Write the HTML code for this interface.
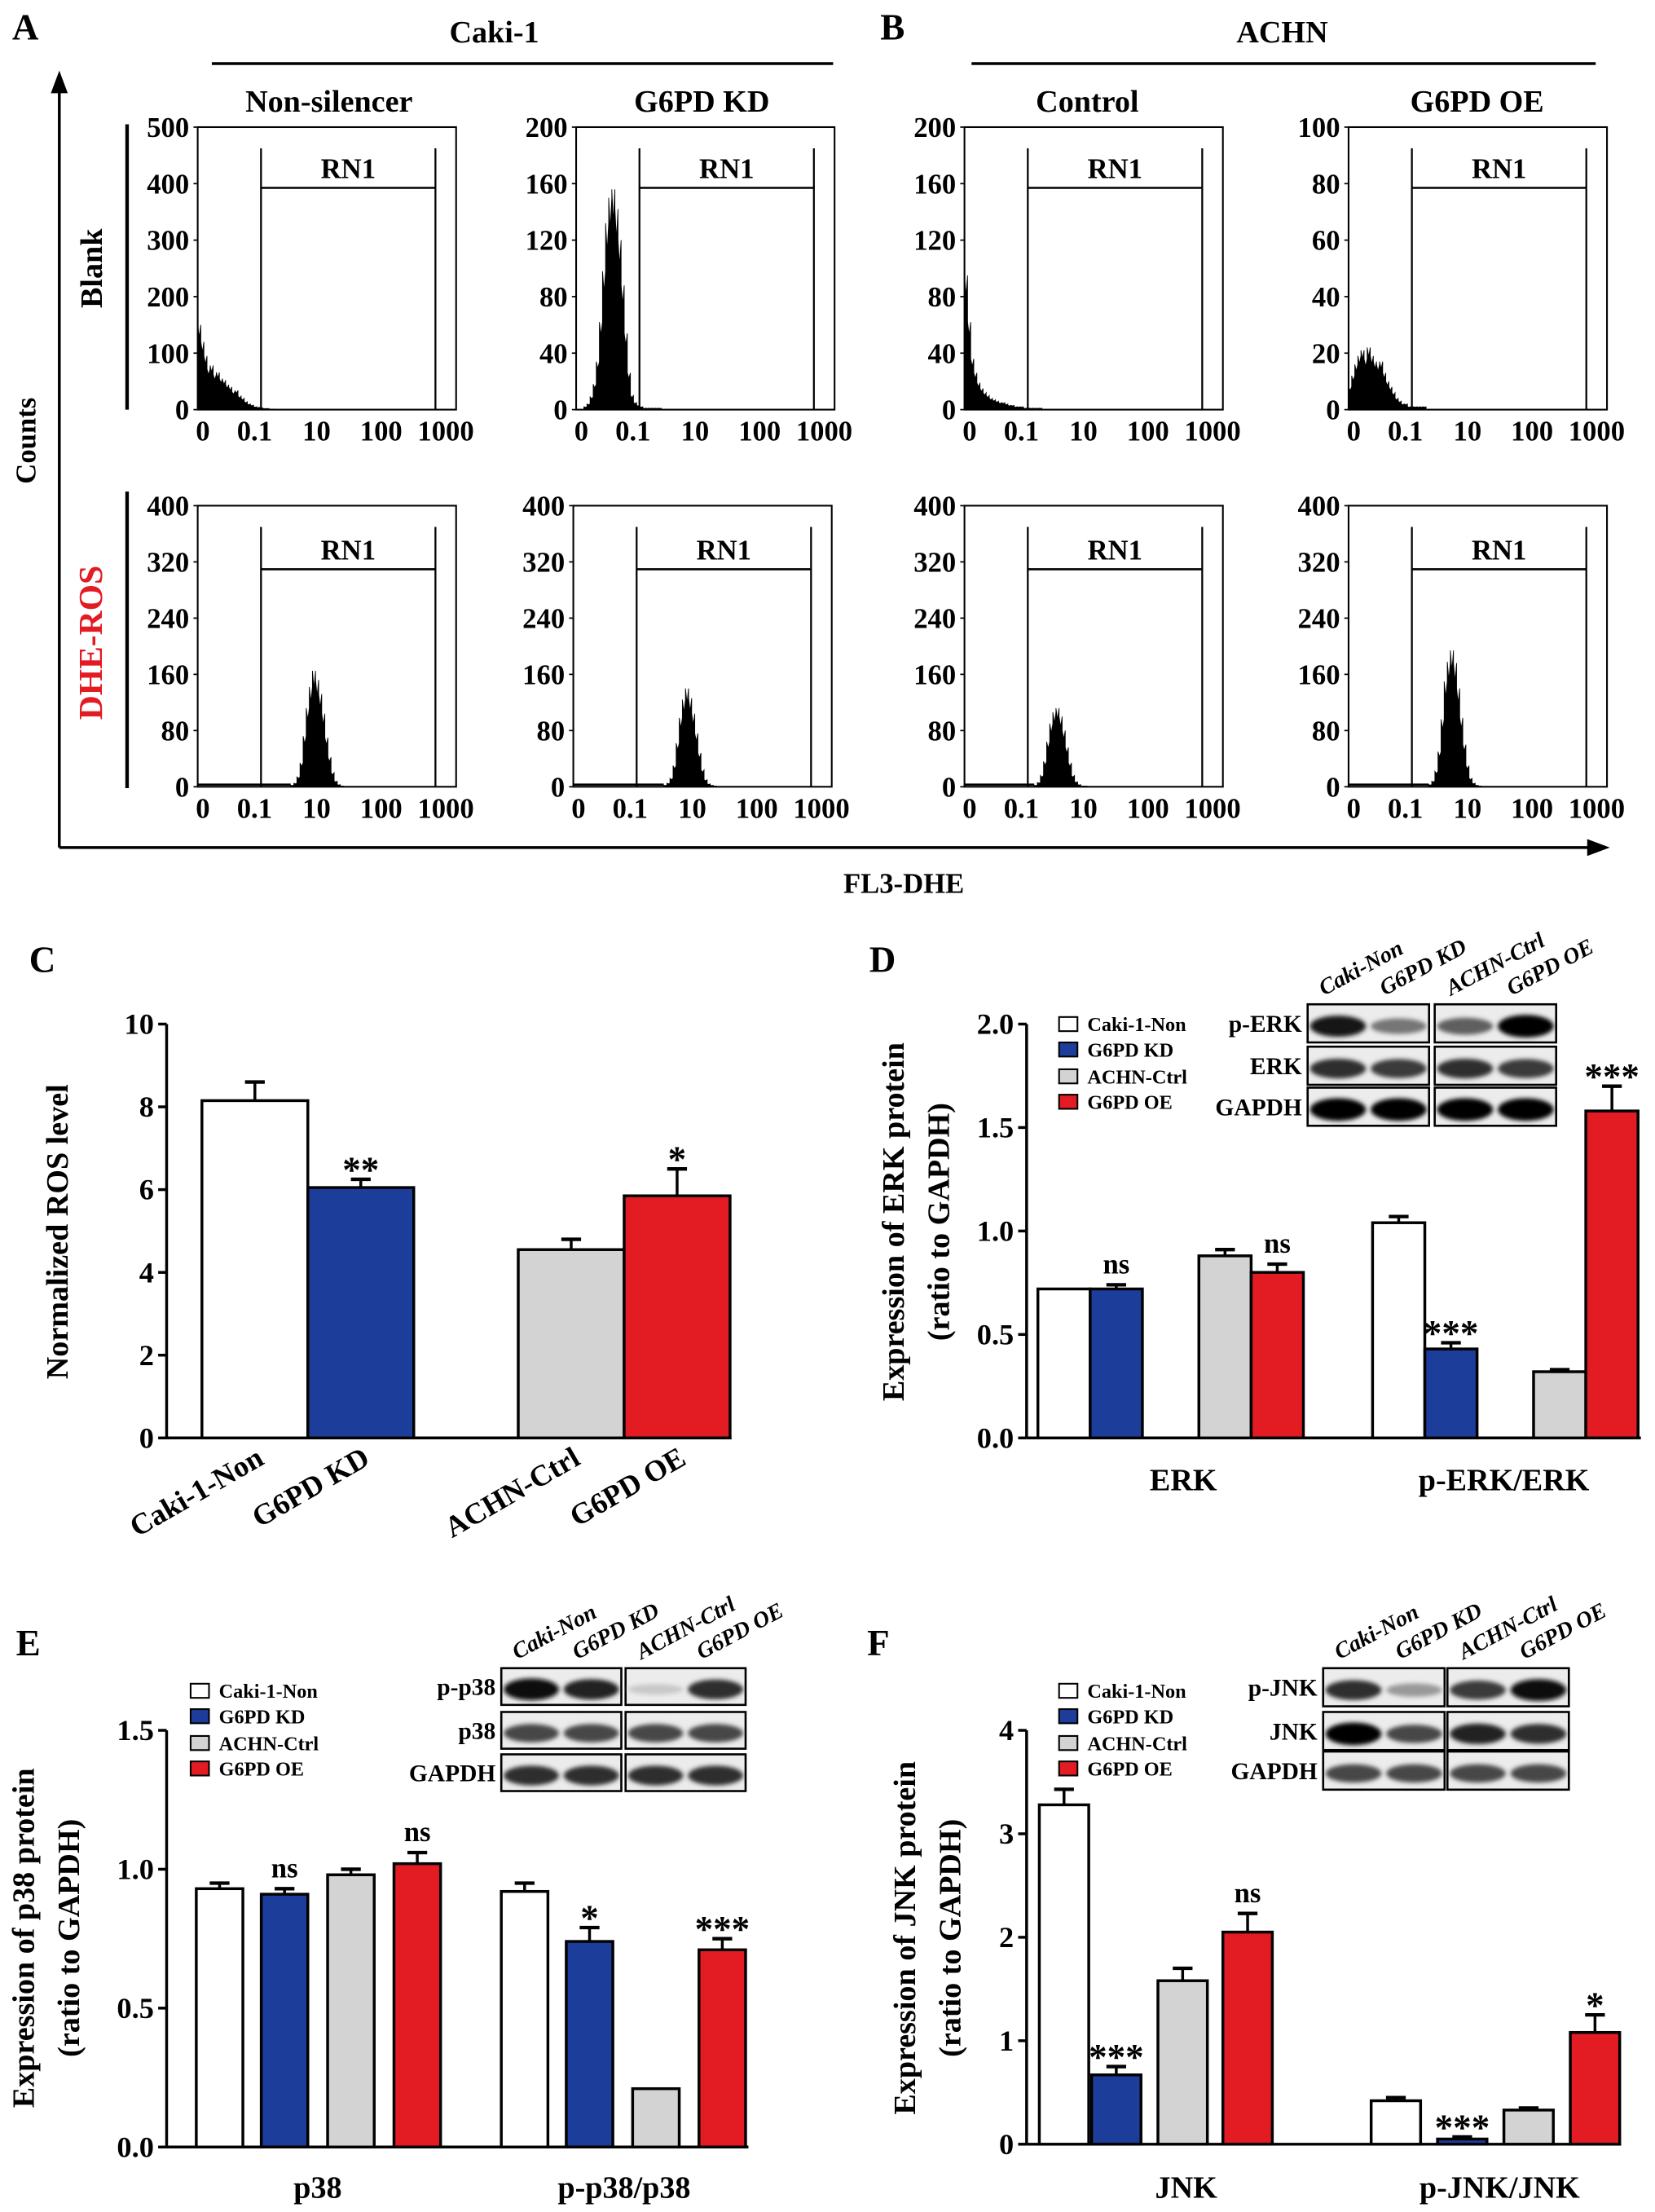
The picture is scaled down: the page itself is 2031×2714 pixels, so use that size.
<!DOCTYPE html>
<html><head><meta charset="utf-8"><style>
html,body{margin:0;padding:0;background:#fff}
svg{display:block}
text{font-family:"Liberation Serif",serif;font-weight:bold;fill:#000}
</style></head><body>
<svg id="fig" width="2031" height="2714" viewBox="0 0 1172 1566" preserveAspectRatio="none" xmlns="http://www.w3.org/2000/svg">
<defs><filter id="blur" x="-20%" y="-50%" width="140%" height="200%"><feGaussianBlur stdDeviation="1.6"/></filter></defs>
</svg>
<script>
// ---------------- DATA ----------------
// Flow histograms (bin counts), start = position on FL3 axis (fraction of axis), bins of fixed width
const flowYMax = [[500,200,200,100],[400,400,400,400]];
const flowStart = [[0.0,0.03,0.0,0.0],[0.36,0.35,0.27,0.31]];
const flowBins = [
 [[150,120,95,72,78,62,66,55,52,44,40,32,34,24,20,14,10,8,5,4,3,2,2,1,1],
  [2,4,9,18,34,62,98,132,150,156,142,120,88,54,26,10,5,3,2,1,1,1,1,1,1],
  [95,62,36,26,19,15,12,10,8,7,6,5,5,4,3,3,2,2,2,1,1,1,1,1,1],
  [8,12,16,19,21,18,22,19,17,16,17,13,10,8,6,4,3,2,2,1,1,1,1,1,1]],
 [[2,5,14,34,72,112,142,165,152,132,104,70,42,20,8,3,1],
  [2,5,12,30,62,98,124,140,126,104,76,48,24,10,4,2,1],
  [2,6,16,36,64,90,106,112,100,80,56,34,16,7,3,1,1],
  [3,8,22,50,96,150,178,194,176,140,98,60,30,12,5,2,1]]
];
const flowTicks = [[[0,100,200,300,400,500],[0,40,80,120,160,200],[0,40,80,120,160,200],[0,20,40,60,80,100]],
 [[0,80,160,240,320,400],[0,80,160,240,320,400],[0,80,160,240,320,400],[0,80,160,240,320,400]]];
const flowXLabels = ["0","0.1","10","100","1000"];
const colTitles = ["Non-silencer","G6PD KD","Control","G6PD OE"];

// Panel C
const cCats = ["Caki-1-Non","G6PD KD","ACHN-Ctrl","G6PD OE"];
const cVals = [8.15,6.05,4.55,5.85];
const cErrs = [0.45,0.2,0.25,0.65];
const cSig = ["","**","","*"];
const cTicks = [0,2,4,6,8,10];

// Panel D
const dGroups = ["ERK","p-ERK/ERK"];
const dVals = [[0.72,0.72,0.88,0.80],[1.04,0.43,0.32,1.58]];
const dErrs = [[0.0,0.02,0.03,0.04],[0.03,0.03,0.01,0.12]];
const dSig = [["","ns","","ns"],["","***","","***"]];
const dTicks = [0.0,0.5,1.0,1.5,2.0];

// Panel E
const eGroups = ["p38","p-p38/p38"];
const eVals = [[0.93,0.91,0.98,1.02],[0.92,0.74,0.21,0.71]];
const eErrs = [[0.02,0.02,0.02,0.04],[0.03,0.05,0.0,0.04]];
const eSig = [["","ns","","ns"],["","*","","***"]];
const eTicks = [0.0,0.5,1.0,1.5];

// Panel F
const fGroups = ["JNK","p-JNK/JNK"];
const fVals = [[3.28,0.67,1.58,2.05],[0.42,0.05,0.33,1.08]];
const fErrs = [[0.15,0.08,0.12,0.18],[0.03,0.02,0.02,0.17]];
const fSig = [["","***","","ns"],["","***","","*"]];
const fTicks = [0,1,2,3,4];

const legendLabels = ["Caki-1-Non","G6PD KD","ACHN-Ctrl","G6PD OE"];
const laneLabels = ["Caki-Non","G6PD KD","ACHN-Ctrl","G6PD OE"];
// Band intensities per row per lane
const dBlot = {rows:["p-ERK","ERK","GAPDH"], inten:[[0.9,0.5,0.6,1.0],[0.8,0.75,0.8,0.75],[1,1,1,1]]};
const eBlot = {rows:["p-p38","p38","GAPDH"], inten:[[0.95,0.85,0.15,0.8],[0.7,0.7,0.7,0.7],[0.8,0.8,0.8,0.8]]};
const fBlot = {rows:["p-JNK","JNK"," GAPDH"], inten:[[0.8,0.35,0.75,0.95],[1,0.7,0.85,0.8],[0.7,0.7,0.7,0.7]]};

const COLORS = ["#ffffff","#1d3d9a","#d3d3d3","#e31b23"];
// ---------------- HELPERS ----------------
const svg = document.getElementById('fig');
const NS = "http://www.w3.org/2000/svg";
function el(tag, attrs, parent){
  const e = document.createElementNS(NS, tag);
  for (const k in attrs) e.setAttribute(k, attrs[k]);
  (parent||svg).appendChild(e);
  return e;
}
function txt(x,y,s,size,anchor,parent,extra){
  const t = el('text',Object.assign({x:x,y:y,'font-size':size,'text-anchor':anchor||'middle'},extra||{}),parent);
  t.textContent = s;
  return t;
}
function line(x1,y1,x2,y2,w,parent){return el('line',{x1,y1,x2,y2,stroke:'#000','stroke-width':w||1.5},parent);}

// ---------------- PANELS A/B ----------------
const gAB = el('g',{});


txt(18,28,"A",26,'middle',gAB);
txt(632,28,"B",26,'middle',gAB);
txt(350,30,"Caki-1",22,'middle',gAB);
line(150,45,590,45,2,gAB);
txt(908,30,"ACHN",22,'middle',gAB);
line(688,45,1130,45,2,gAB);
const plotX = [[140,408,683,955],[140,406,683,955]];
const plotW = 183;
const rowTop = [90,358], rowBot=[290,557];
colTitles.forEach((c,i)=>{ const t=txt([233,497,770,1046][i],79,c,22,'middle',gAB); });
// axes arrows
line(42,600,42,60,2,gAB); el('path',{d:'M42,50 L36,66 L48,66 Z',fill:'#000'},gAB);
line(42,600,1128,600,2,gAB); el('path',{d:'M1140,600 L1124,594 L1124,606 Z',fill:'#000'},gAB);
txt(640,632,"FL3-DHE",20,'middle',gAB);
txt(25,312,"Counts",20,'middle',gAB,{transform:'rotate(-90 25 312)'});
txt(72,190,"Blank",22,'middle',gAB,{transform:'rotate(-90 72 190)'});
const dhe = txt(72,455,"DHE-ROS",24,'middle',gAB,{transform:'rotate(-90 72 455)'}); dhe.setAttribute('style','fill:#e31b23');
line(90,88,90,290,2.5,gAB); line(90,348,90,558,2.5,gAB);
const xFrac = [0.02,0.22,0.46,0.71,0.96];
for(let r=0;r<2;r++){
  for(let c=0;c<4;c++){
    const g = el('g',{},gAB);
    
    
    const x0=plotX[r][c], y0=rowTop[r], y1=rowBot[r];
    const ymax=flowYMax[r][c];
    const ys = v=> y1-(v/ymax)*(y1-y0);
    const xs = f=> x0+f*plotW;
    el('rect',{x:x0,y:y0,width:plotW,height:y1-y0,fill:'none',stroke:'#000','stroke-width':1.2},g);
    flowTicks[r][c].forEach(v=>{ txt(x0-6,ys(v)+7,String(v),20,'end',g); line(x0-3,ys(v),x0,ys(v),1,g); });
    flowXLabels.forEach((s,i)=>txt(xs(xFrac[i]),y1+22,s,20,'middle',g));
    // gate
    const gx1=xs(0.245), gx2=xs(0.92), gy=(r==0?133:403);
    line(gx1,y0+15,gx1,y1,1.3,g); line(gx2,y0+15,gx2,y1,1.3,g); line(gx1,gy,gx2,gy,1.5,g);
    txt((gx1+gx2)/2,gy-7,"RN1",20,'middle',g);
    // histogram
    const bins=flowBins[r][c], bw=0.012, st=flowStart[r][c];
    let d='M'+xs(st)+','+y1;
    bins.forEach((v,i)=>{ d+=' L'+xs(st+i*bw)+','+ys(v)+' L'+xs(st+(i+0.5)*bw)+','+ys(v*0.85)+' L'+xs(st+(i+1)*bw)+','+ys(v); });
    d+=' L'+xs(st+bins.length*bw)+','+y1+' Z';
    el('path',{d:d,fill:'#000',stroke:'#000','stroke-width':0.5},g);
    if(r==1) line(x0,y1-1.5,xs(st),y1-1.5,1.5,g);
  }
}

// ---------------- BAR CHART FUNCTION ----------------
function barChart(o){
  const g = el('g',{});
  
  
  const ys = v=> o.y0-(v/o.vmax)*(o.y0-o.ytop);
  line(o.ax,o.ytop,o.ax,o.y0,2,g);
  line(o.ax,o.y0,o.axEnd,o.y0,2,g);
  o.ticks.forEach(v=>{ line(o.ax-6,ys(v),o.ax,ys(v),2,g); txt(o.ax-9,ys(v)+7,o.fmt(v),21,'end',g); });
  o.bars.forEach(b=>{
    const yv=ys(b.v);
    if(b.e>0){ line(b.x+b.w/2,yv,b.x+b.w/2,ys(b.v+b.e),2,g); line(b.x+b.w/2-7,ys(b.v+b.e),b.x+b.w/2+7,ys(b.v+b.e),2.5,g);}
    const r=el('rect',{x:b.x,y:yv,width:b.w,height:o.y0-yv,fill:b.c,stroke:'#000','stroke-width':2},g);
    
    
    if(b.s) txt(b.x+b.w/2,ys(b.v+b.e)-(b.s=="ns"?8:-2),b.s,b.s=="ns"?20:26,'middle',g);
  });
  return g;
}
function legend(x,y,parent){
  const g=el('g',{},parent);
  
  
  const off=[0,18,37,55];
  legendLabels.forEach((l,i)=>{
    el('rect',{x:x,y:y+off[i]-9,width:13,height:10,fill:COLORS[i],stroke:'#000','stroke-width':1.2},g);
    txt(x+20,y+off[i]+1,l,14,'start',g);
  });
}
function blot(x1,x2,w,tops,h,data,parent){
  const g=el('g',{},parent);
  
  
  const laneX=[x1+w*0.25,x1+w*0.75,x2+w*0.25,x2+w*0.75];
  data.rows.forEach((rn,ri)=>{
    [x1,x2].forEach(bx=>el('rect',{x:bx,y:tops[ri],width:w,height:h,fill:'#ececec',stroke:'#000','stroke-width':1.5},g));
    txt(x1-4,tops[ri]+h/2+6,rn,17,'end',g);
    data.inten[ri].forEach((v,li)=>{
      const gr=Math.round(235*(1-v));
      el('ellipse',{cx:laneX[li],cy:tops[ri]+h/2+2,rx:w*0.23,ry:3+5*v,fill:'rgb('+gr+','+gr+','+gr+')',filter:'url(#blur)'},g);
    });
  });
  laneLabels.forEach((l,i)=>txt(laneX[i]-10,tops[0]-6,l,16,'start',g,{transform:'rotate(-28 '+(laneX[i]-10)+' '+(tops[0]-6)+')',style:'font-style:italic'}));
}

// ---------------- PANEL C ----------------
(function(){
  const xs=[143,218,367,442];
  const bars=cCats.map((c,i)=>({x:xs[i],w:75,v:cVals[i],e:cErrs[i],c:COLORS[i],s:cSig[i],n:'c-'+i}));
  const g=barChart({name:'panel-c-ros-chart',ax:118,axEnd:518,y0:1018,ytop:725,vmax:10,ticks:cTicks,fmt:v=>String(v),bars:bars});
  txt(30,688,"C",26,'middle',g);
  txt(48,872,"Normalized ROS level",22,'middle',g,{transform:'rotate(-90 48 872)'});
  cCats.forEach((c,i)=>{ const cx=xs[i]+37+8, cy=1036; txt(cx,cy,c,21,'end',g,{transform:'rotate(-30 '+cx+' '+cy+')'}); });
})();

// ---------------- PANEL D ----------------
(function(){
  const xs=[[735,772,849,886],[972,1009,1086,1123]];
  const bars=[];
  dGroups.forEach((gr,gi)=>dVals[gi].forEach((v,i)=>bars.push({x:xs[gi][i],w:37,v:v,e:dErrs[gi][i],c:COLORS[i],s:dSig[gi][i],n:'d-'+gi+'-'+i})));
  const g=barChart({name:'panel-d-erk-chart',ax:727,axEnd:1162,y0:1018,ytop:725,vmax:2,ticks:dTicks,fmt:v=>v.toFixed(1),bars:bars});
  txt(625,688,"D",26,'middle',g);
  txt(640,865,"Expression of ERK protein",22,'middle',g,{transform:'rotate(-90 640 865)'});
  txt(672,865,"(ratio to GAPDH)",22,'middle',g,{transform:'rotate(-90 672 865)'});
  txt(838,1055,dGroups[0],22,'middle',g); txt(1065,1055,dGroups[1],22,'middle',g);
  legend(750,729,g);
  blot(926,1016,86,[711,741,770],27,dBlot,g);
})();

// ---------------- PANEL E ----------------
(function(){
  const xs=[[139,185,232,279],[355,401,448,495]];
  const bars=[];
  eGroups.forEach((gr,gi)=>eVals[gi].forEach((v,i)=>bars.push({x:xs[gi][i],w:33,v:v,e:eErrs[gi][i],c:COLORS[i],s:eSig[gi][i],n:'e-'+gi+'-'+i})));
  const g=barChart({name:'panel-e-p38-chart',ax:118,axEnd:530,y0:1520,ytop:1225,vmax:1.5,ticks:eTicks,fmt:v=>v.toFixed(1),bars:bars});
  txt(20,1172,"E",26,'middle',g);
  txt(24,1372,"Expression of p38 protein",22,'middle',g,{transform:'rotate(-90 24 1372)'});
  txt(56,1372,"(ratio to GAPDH)",22,'middle',g,{transform:'rotate(-90 56 1372)'});
  txt(225,1556,eGroups[0],22,'middle',g); txt(442,1556,eGroups[1],22,'middle',g);
  legend(135,1201,g);
  blot(355,443,85,[1181,1212,1242],26,eBlot,g);
})();

// ---------------- PANEL F ----------------
(function(){
  const xs=[[736,773,820,866],[971,1018,1065,1112]];
  const bars=[];
  fGroups.forEach((gr,gi)=>fVals[gi].forEach((v,i)=>bars.push({x:xs[gi][i],w:35,v:v,e:fErrs[gi][i],c:COLORS[i],s:fSig[gi][i],n:'f-'+gi+'-'+i})));
  const g=barChart({name:'panel-f-jnk-chart',ax:727,axEnd:1148,y0:1518,ytop:1225,vmax:4,ticks:fTicks,fmt:v=>String(v),bars:bars});
  txt(622,1172,"F",26,'middle',g);
  txt(648,1372,"Expression of JNK protein",22,'middle',g,{transform:'rotate(-90 648 1372)'});
  txt(680,1372,"(ratio to GAPDH)",22,'middle',g,{transform:'rotate(-90 680 1372)'});
  txt(840,1556,fGroups[0],22,'middle',g); txt(1062,1556,fGroups[1],22,'middle',g);
  legend(750,1201,g);
  blot(937,1025,86,[1181,1212,1240],27,fBlot,g);
})();
</script>
</body></html>
